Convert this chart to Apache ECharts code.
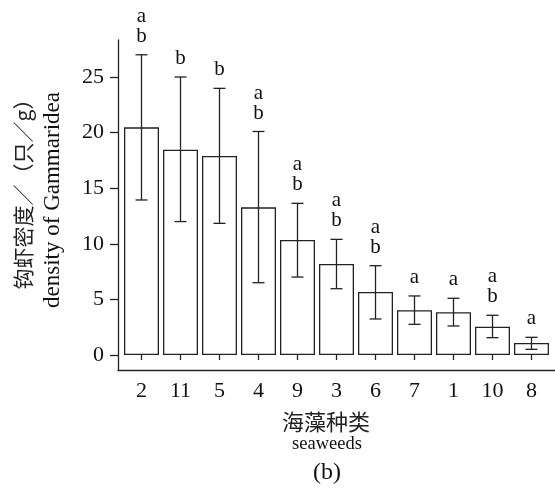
<!DOCTYPE html>
<html>
<head>
<meta charset="utf-8">
<script src="https://cdn.jsdelivr.net/npm/echarts@6/dist/echarts.min.js"></script>
<style>html,body{margin:0;padding:0;background:#fff;}#c{width:555px;height:492px;}</style>
</head>
<body>
<div id="c"></div>
<script>
const categories = ['2','11','5','4','9','3','6','7','1','10','8'];
const means = [20.47, 18.46, 17.9, 13.28, 10.34, 8.18, 5.67, 4.02, 3.84, 2.55, 1.08];
const lower = [13.94, 12.0, 11.84, 6.5, 7.01, 5.96, 3.24, 2.76, 2.61, 1.56, 0.51];
const upper = [27.0, 25.0, 23.98, 20.1, 13.64, 10.4, 8.03, 5.31, 5.1, 3.57, 1.59];
const letters = ['ab','b','b','ab','ab','ab','ab','a','a','ab','a'];
const yTicks = [0, 5, 10, 15, 20, 25];

const SERIF = "'Liberation Serif','Times New Roman',serif";
const CJK = "'Noto Sans CJK SC','Noto Sans CJK JP',sans-serif";
const INK = '#222';

const chart = echarts.init(document.getElementById('c'), null, {renderer: 'canvas'});

const option = {
  animation: false,
  backgroundColor: '#fff',
  grid: [
    {left: 118, right: 0, top: 40, bottom: 122},
    {left: 122, width: 429, top: 77, height: 278}
  ],
  xAxis: [
    {gridIndex: 0, type: 'value', min: 0, max: 1,
     axisLine: {show: true, lineStyle: {color: INK, width: 1.3}},
     axisTick: {show: false}, axisLabel: {show: false}, splitLine: {show: false}},
    {gridIndex: 1, type: 'category', data: categories, offset: 15,
     axisLine: {show: false},
     axisTick: {show: true, alignWithLabel: true, length: 5, lineStyle: {color: INK, width: 1.3}},
     axisLabel: {show: true, margin: 21, color: '#111', fontFamily: SERIF, fontSize: 22, verticalAlign: 'middle', interval: 0},
     splitLine: {show: false}}
  ],
  yAxis: [
    {gridIndex: 0, type: 'value', min: 0, max: 1,
     axisLine: {show: true, lineStyle: {color: INK, width: 1.3}},
     axisTick: {show: false}, axisLabel: {show: false}, splitLine: {show: false}},
    {gridIndex: 1, type: 'value', min: yTicks[0], max: yTicks[yTicks.length - 1], interval: 5, offset: 4,
     axisLine: {show: false},
     axisTick: {show: true, length: 8, lineStyle: {color: INK, width: 1.3}},
     axisLabel: {show: true, margin: 14, color: '#111', fontFamily: SERIF, fontSize: 22},
     splitLine: {show: false}}
  ],
  series: [
    {
      type: 'bar', xAxisIndex: 1, yAxisIndex: 1,
      data: means, barWidth: 35,
      itemStyle: {color: '#fff', borderColor: INK, borderWidth: 1.3},
      z: 2
    },
    {
      type: 'custom', xAxisIndex: 1, yAxisIndex: 1,
      data: categories.map((c, i) => [i, lower[i], upper[i]]),
      z: 3,
      renderItem: function (params, api) {
        const i = api.value(0);
        const lo = api.coord([i, api.value(1)]);
        const hi = api.coord([i, api.value(2)]);
        const hw = 6;
        const st = {stroke: INK, lineWidth: 1.3};
        return {type: 'group', children: [
          {type: 'line', shape: {x1: lo[0], y1: lo[1], x2: hi[0], y2: hi[1]}, style: st},
          {type: 'line', shape: {x1: lo[0] - hw, y1: lo[1], x2: lo[0] + hw, y2: lo[1]}, style: st},
          {type: 'line', shape: {x1: hi[0] - hw, y1: hi[1], x2: hi[0] + hw, y2: hi[1]}, style: st}
        ]};
      }
    },
    {
      type: 'custom', xAxisIndex: 1, yAxisIndex: 1,
      data: categories.map((c, i) => [i, upper[i]]),
      z: 4,
      renderItem: function (params, api) {
        const i = api.value(0);
        const p = api.coord([i, api.value(1)]);
        const chars = letters[params.dataIndex].split('').reverse();
        return {type: 'group', children: chars.map((ch, k) => ({
          type: 'text',
          style: {text: ch, x: p[0], y: p[1] - 18.5 - 20 * k, align: 'center', verticalAlign: 'middle',
                  fontFamily: SERIF, fontSize: 21, fill: '#111'}
        }))};
      }
    }
  ],
  graphic: [
    {type: 'text', x: 23, y: 189, rotation: Math.PI / 2,
     style: {text: '钩虾密度／（只／g）', x: 0, y: 0, align: 'center', verticalAlign: 'middle', fontFamily: CJK, fontSize: 21, fill: '#222'}},
    {type: 'text', x: 53, y: 200, rotation: Math.PI / 2,
     style: {text: 'density of Gammaridea', x: 0, y: 0, align: 'center', verticalAlign: 'middle', fontFamily: SERIF, fontSize: 23, fill: '#111'}},
    {type: 'text', x: 326, y: 422,
     style: {text: '海藻种类', x: 0, y: 0, align: 'center', verticalAlign: 'middle', fontFamily: CJK, fontSize: 22, fill: '#222'}},
    {type: 'text', x: 327, y: 444,
     style: {text: 'seaweeds', x: 0, y: 0, align: 'center', verticalAlign: 'middle', fontFamily: SERIF, fontSize: 18.5, fill: '#111'}},
    {type: 'text', x: 327, y: 473,
     style: {text: '(b)', x: 0, y: 0, align: 'center', verticalAlign: 'middle', fontFamily: SERIF, fontSize: 24, fill: '#111'}}
  ]
};
chart.setOption(option);
</script>
</body>
</html>
